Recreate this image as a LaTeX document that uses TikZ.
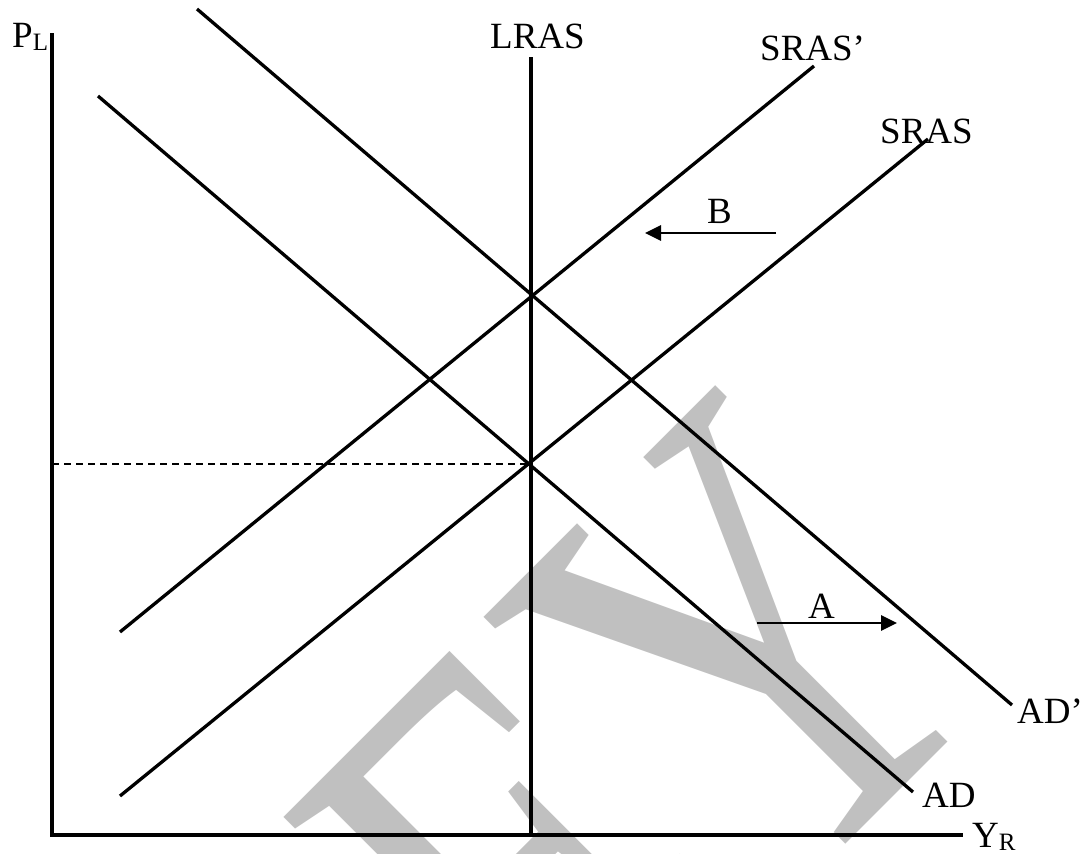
\documentclass[tikz,border=0pt]{standalone}
\usepackage{fontspec}
\setmainfont{Liberation Serif}
\usetikzlibrary{arrows.meta}
\definecolor{wmgray}{RGB}{192,192,192}
\begin{document}
\begin{tikzpicture}[x=1pt,y=-1pt,
  curve/.style={line width=3.3pt},
  axisline/.style={line width=3.6pt},
  guide/.style={line width=1.7pt, dash pattern=on 7pt off 5pt},
  shiftarrow/.style={line width=2.7pt, -{Triangle[length=16pt,width=15pt]}},
  lbl/.style={inner sep=0pt, anchor=base west, font=\fontsize{37}{40}\selectfont},
  wm/.style={inner sep=0pt, anchor=base west, text=wmgray, rotate=45,
    font=\fontsize{478}{500}\selectfont}]
\useasboundingbox (0,0) rectangle (1087,854);
\clip (0,0) rectangle (1087,854);
% watermark
\node[wm] (wmark) at (568,1122) {\scalebox{1}[1.33]{EY}};
% coordinates
\coordinate (ytop) at (52,33);
\coordinate (orig) at (52,835);
\coordinate (xend) at (963,835);
\coordinate (lrastop) at (531,57);
\coordinate (lrasbot) at (531,835);
\coordinate (srasp1) at (120,632);
\coordinate (srasp2) at (814,66);
\coordinate (sras1) at (120,796);
\coordinate (sras2) at (928,139);
\coordinate (ad1) at (98,96);
\coordinate (ad2) at (913,792);
\coordinate (adp1) at (197,9);
\coordinate (adp2) at (1012,705);
\coordinate (eqy) at (52,464);
\coordinate (eq) at (531,464);
\coordinate (aS) at (757,623);
\coordinate (aE) at (897,623);
\coordinate (bS) at (776,233);
\coordinate (bE) at (645,233);
% axes
\draw[axisline] (ytop) -- (orig) -- (xend);
% curves
\draw[curve] (lrastop) -- (lrasbot);
\draw[curve] (srasp1) -- (srasp2);
\draw[curve] (sras1) -- (sras2);
\draw[curve] (ad1) -- (ad2);
\draw[curve] (adp1) -- (adp2);
\draw[guide] (eqy) -- (eq);
% shift arrows
\draw[shiftarrow] (aS) -- (aE);
\draw[shiftarrow] (bS) -- (bE);
% labels
\node[lbl] (pl) at (12,47) {P\raisebox{-3pt}{\fontsize{25}{25}\selectfont L}};
\node[lbl] (yr) at (972,847) {Y\raisebox{-3pt}{\fontsize{25}{25}\selectfont R}};
\node[lbl] (lras) at (490,48) {LRAS};
\node[lbl] (sraspl) at (760,60) {SRAS’};
\node[lbl] (srasl) at (880,143) {SRAS};
\node[lbl] (adl) at (922,807) {AD};
\node[lbl] (adpl) at (1017,723) {AD’};
\node[lbl] (al) at (808,618) {A};
\node[lbl] (bl) at (707,223) {B};
\end{tikzpicture}
\end{document}
